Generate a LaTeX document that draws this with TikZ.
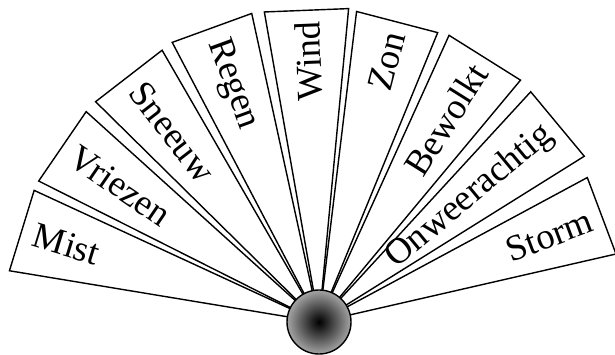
\documentclass[tikz,border=0pt]{standalone}
\usepackage{fontspec}
\setmainfont{Liberation Serif}
\usetikzlibrary{calc}
\pgfdeclareradialshading{ballshade}{\pgfpoint{0bp}{0bp}}{color(0bp)=(black); color(6bp)=(black!85); color(24bp)=(black!38); color(50bp)=(black!8)}

\begin{document}
\begin{tikzpicture}[x=0.025cm,y=0.025cm,font=\fontsize{26}{30}\selectfont,
   wedge/.style={draw=black,fill=white,line width=1pt,line join=miter},
   lab/.style={inner sep=0pt}]
  \useasboundingbox (0,0) rectangle (615,354);
  \coordinate (hub) at (319,32);
  % left half, text reads towards the hub
  \foreach \a/\r/\w in {162.9/311/Mist,145.6/311/Vriezen,127.7/311/Sneeuw,110/313/Regen}{
    \draw[wedge] (hub) -- ($(hub)+(\a-7.7:\r/0.991)$) -- ($(hub)+(\a+7.7:\r/0.991)$) -- cycle;
    \node[lab,anchor=west,rotate=\a-180] (\w) at ($(hub)+(\a:\r-13)$) {\w};
  }
  % right half, text reads away from the hub
  \foreach \a/\r/\w in {92.3/312/Wind,75.4/310/Zon,57.9/312/Bewolkt,39.7/310/Onweerachtig,20.6/302/Storm}{
    \draw[wedge] (hub) -- ($(hub)+(\a-7.7:\r/0.991)$) -- ($(hub)+(\a+7.7:\r/0.991)$) -- cycle;
    \node[lab,anchor=east,rotate=\a] (\w) at ($(hub)+(\a:\r-11)$) {\w};
  }
  \node[circle,draw,line width=1pt,shading=ballshade,minimum size=1.6cm] (ball) at (hub) {};
\end{tikzpicture}
\end{document}
